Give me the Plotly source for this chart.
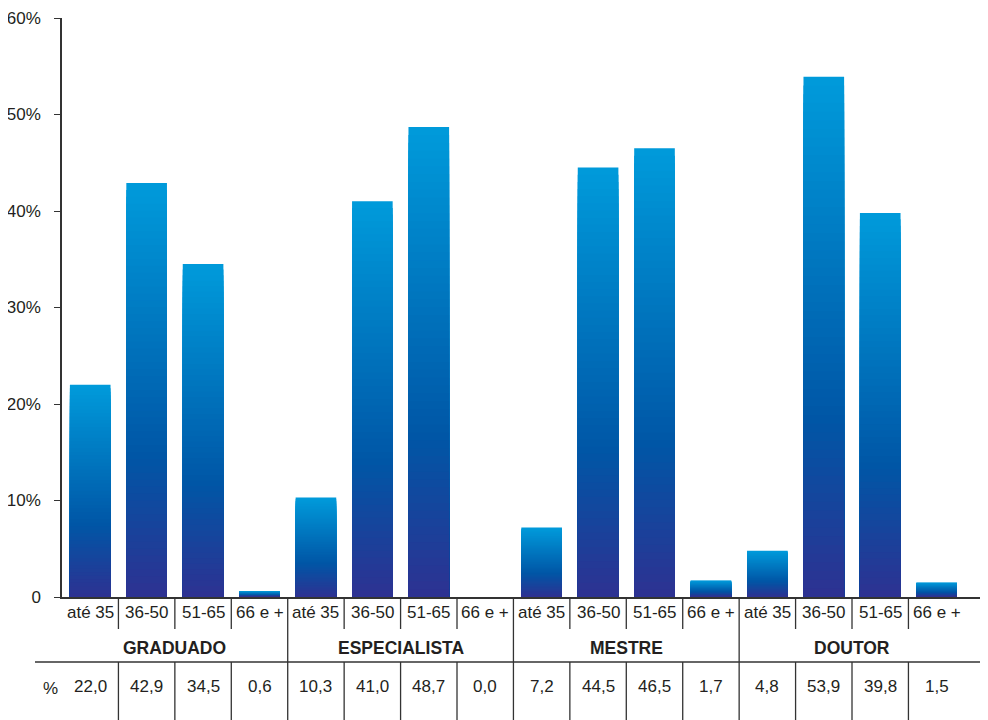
import plotly.graph_objects as go

groups = ["GRADUADO", "ESPECIALISTA", "MESTRE", "DOUTOR"]
age_bands = ["até 35", "36-50", "51-65", "66 e +"]
graduado = [22.0, 42.9, 34.5, 0.6]
especialista = [10.3, 41.0, 48.7, 0.0]
mestre = [7.2, 44.5, 46.5, 1.7]
doutor = [4.8, 53.9, 39.8, 1.5]
y_tick_vals = [0, 10, 20, 30, 40, 50, 60]
y_tick_text = ["0", "10%", "20%", "30%", "40%", "50%", "60%"]

values = graduado + especialista + mestre + doutor
labels = age_bands * len(groups)
xs = list(range(len(values)))

OFF = 8  # page body margin
W, H = 988 - OFF, 720 - OFF
ML, MR, MT, MB = 62 - OFF, 0, 18 - OFF, 123
PH = H - MT - MB
PW = W - ML - MR
XR = [-0.5, 15.91]
TXT = "#231f20"
LINE = "#333333"
FONT = "Liberation Sans, Arial, sans-serif"
FS = 17

def xp(v):
    return (v - XR[0]) / (XR[1] - XR[0])

def yp(py):
    # py: pixel y in the page
    return (H - MB - (py - OFF)) / PH

def xpx(px):
    return (px - OFF - ML) / PW

stops = [(0.0, (0, 155, 219)), (0.66, (0, 86, 166)), (1.0, (46, 49, 146))]

def grad(t):
    for (t0, c0), (t1, c1) in zip(stops[:-1], stops[1:]):
        if t <= t1:
            f = (t - t0) / (t1 - t0)
            return "rgb(%d,%d,%d)" % tuple(round(a + (b - a) * f) for a, b in zip(c0, c1))
    return "rgb(%d,%d,%d)" % stops[-1][1]

fig = go.Figure()
N = 60
for k in range(N):
    frac = (N - k) / N
    fig.add_trace(go.Bar(
        x=xs, y=[v * frac for v in values], width=0.72,
        marker=dict(color=grad((k + 0.5) / N), line=dict(width=0)),
        showlegend=False, hoverinfo="skip"))

shapes = []
annotations = []
line_style = dict(color=LINE, width=1.3)
for b in range(1, 16):
    xb = xp(b - 0.5)
    if b % 4 == 0:
        shapes.append(dict(type="line", xref="paper", yref="paper", x0=xb, x1=xb,
                           y0=0, y1=yp(720), line=line_style))
    else:
        shapes.append(dict(type="line", xref="paper", yref="paper", x0=xb, x1=xb,
                           y0=0, y1=yp(629), line=line_style))
        shapes.append(dict(type="line", xref="paper", yref="paper", x0=xb, x1=xb,
                           y0=yp(662), y1=yp(720), line=line_style))
shapes.append(dict(type="line", xref="paper", yref="paper", x0=xpx(35), x1=1.0,
                   y0=yp(662), y1=yp(662), line=line_style))

for x, lab, v in zip(xs, labels, values):
    annotations.append(dict(x=x, y=yp(612), xref="x", yref="paper", text=lab, showarrow=False,
                            font=dict(size=FS, color=TXT, family=FONT), xanchor="center", yanchor="middle"))
    annotations.append(dict(x=x, y=yp(686), xref="x", yref="paper", text=("%.1f" % v).replace(".", ","),
                            showarrow=False, font=dict(size=FS, color=TXT, family=FONT),
                            xanchor="center", yanchor="middle"))
for i, g in enumerate(groups):
    annotations.append(dict(x=4 * i + 1.5, y=yp(648), xref="x", yref="paper", text="<b>%s</b>" % g,
                            showarrow=False, font=dict(size=17.5, color=TXT, family=FONT),
                            xanchor="center", yanchor="middle"))
annotations.append(dict(x=xpx(50), y=yp(688), xref="paper", yref="paper", text="%",
                        showarrow=False, font=dict(size=FS, color=TXT, family=FONT),
                        xanchor="center", yanchor="middle"))

fig.update_layout(
    width=W, height=H, margin=dict(l=ML, r=MR, t=MT, b=MB),
    paper_bgcolor="white", plot_bgcolor="white", barmode="overlay",
    shapes=shapes, annotations=annotations, showlegend=False,
    xaxis=dict(range=XR, showline=True, linecolor=LINE, linewidth=1.5, showticklabels=False,
               ticks="", showgrid=False, zeroline=False, fixedrange=True),
    yaxis=dict(range=[0, 60], showline=True, linecolor=LINE, linewidth=1.5, tickvals=y_tick_vals,
               ticktext=y_tick_text, ticks="outside", ticklen=6, tickcolor=LINE, tickwidth=1.3,
               showgrid=False, zeroline=False, tickfont=dict(size=FS, color=TXT, family=FONT),
               ticklabelstandoff=10, fixedrange=True),
)
fig.write_html("out.html")
